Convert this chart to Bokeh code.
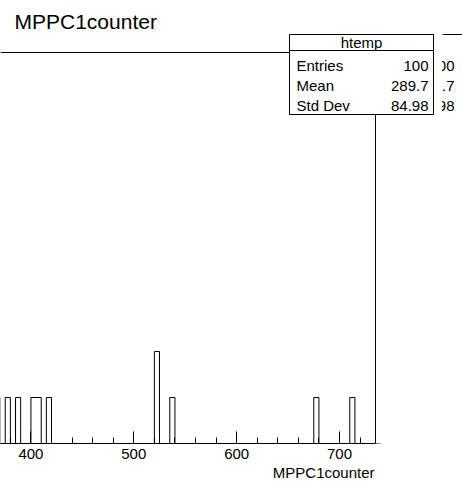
import numpy as np
from bokeh.plotting import figure
from bokeh.models import (Label, BoxAnnotation, Arrow, SingleIntervalTicker, Range1d, Title)
from bokeh.embed import file_html
from bokeh.resources import INLINE

# ---- data ----
bin_low = [365, 375, 385, 400, 405, 415, 520, 535, 675, 710]
bin_count = [1, 1, 1, 1, 1, 1, 2, 1, 1, 1]
bin_width = 5
hist_name = "htemp"
var_name = "MPPC1counter"
stat_names = ["Entries", "Mean", "Std Dev"]
stat_values = ["100", "289.7", "84.98"]

FONT = "Liberation Sans"
HX0, HX1 = 370.4, 735.0       # histogram axis range shown (px 0 .. 375)
HY1 = 8.5                     # histogram frame top value (px 52)
W, H = 462, 482
PL, PR, PT, PB = 0, 375, 52, 443   # ROOT pad frame edges in px

UX = (HX1 - HX0) / (PR - PL)  # data units per px
UY = HY1 / (PB - PT)


def dx(px):
    return HX0 + (px - PL) * UX


def dy(py):
    return (PB - py) * UY


p = figure(width=W, height=H, title=None, toolbar_location=None,
           output_backend="svg", y_axis_location=None,
           x_range=Range1d(dx(0), dx(W)), y_range=Range1d(0, dy(0)),
           min_border_left=0, min_border_right=0,
           min_border_top=0, min_border_bottom=H - PB)
p.outline_line_color = None
p.xgrid.visible = False
p.ygrid.visible = False
p.background_fill_color = "white"
p.border_fill_color = "white"

# histogram contour
edges = np.arange(360, 740, bin_width)
counts = dict(zip(bin_low, bin_count))
xs, ys = [], []
for e in edges:
    c = counts.get(int(e), 0)
    xs += [e, e + bin_width]
    ys += [c, c]
p.line(xs, ys, line_color="black", line_width=1)

# pad frame top / right
p.line([HX0, HX1, HX1], [HY1, HY1, 0], line_color="black", line_width=1)

# axis
ax = p.xaxis[0]
ax.bounds = (HX0, HX1)
ax.ticker = SingleIntervalTicker(interval=100, num_minor_ticks=5)
ax.axis_line_color = "black"
ax.major_tick_line_color = "black"
ax.minor_tick_line_color = "black"
ax.major_tick_in = 12
ax.major_tick_out = 0
ax.minor_tick_in = 6
ax.minor_tick_out = 0
ax.major_label_text_font = FONT
ax.major_label_text_font_size = "15px"
ax.major_label_text_color = "black"
ax.major_label_standoff = 5

p.add_layout(Title(text=var_name, align="right", offset=W - PR + 1, standoff=0,
                   text_font=FONT, text_font_size="15px", text_font_style="normal",
                   text_color="black"), "below")

# title
p.add_layout(Label(x=dx(14), y=dy(21), text=var_name, text_font=FONT,
                   text_font_size="21px", text_baseline="middle", text_align="left",
                   text_color="black"))

rows_y = [65, 85, 105]
# second (hidden) stat box behind
for v, ry in zip(stat_values, rows_y):
    p.add_layout(Label(x=dx(454), y=dy(ry), text=v, text_font=FONT, text_font_size="15px",
                       text_baseline="middle", text_align="right", text_color="black"))
p.add_layout(Arrow(end=None, x_start=dx(442), y_start=dy(34), x_end=dx(470), y_end=dy(34),
                   line_color="black", line_width=1))
p.add_layout(BoxAnnotation(left=dx(289), right=dx(441.5), top=dy(30), bottom=dy(114),
                           fill_color="white", fill_alpha=1, line_color=None))

# stat box
p.add_layout(BoxAnnotation(left=dx(289), right=dx(433), top=dy(34), bottom=dy(50),
                           fill_color="white", fill_alpha=1, line_color="black",
                           line_alpha=1, line_width=1))
p.add_layout(BoxAnnotation(left=dx(289), right=dx(433), top=dy(50), bottom=dy(114),
                           fill_color="white", fill_alpha=1, line_color="black",
                           line_alpha=1, line_width=1))
p.add_layout(Label(x=dx(361), y=dy(42), text=hist_name, text_font=FONT, text_font_size="15px",
                   text_baseline="middle", text_align="center", text_color="black"))
for n, v, ry in zip(stat_names, stat_values, rows_y):
    p.add_layout(Label(x=dx(296), y=dy(ry), text=n, text_font=FONT, text_font_size="15px",
                       text_baseline="middle", text_align="left", text_color="black"))
    p.add_layout(Label(x=dx(428), y=dy(ry), text=v, text_font=FONT, text_font_size="15px",
                       text_baseline="middle", text_align="right", text_color="black"))

open("out.html", "w").write(file_html(p, INLINE))
